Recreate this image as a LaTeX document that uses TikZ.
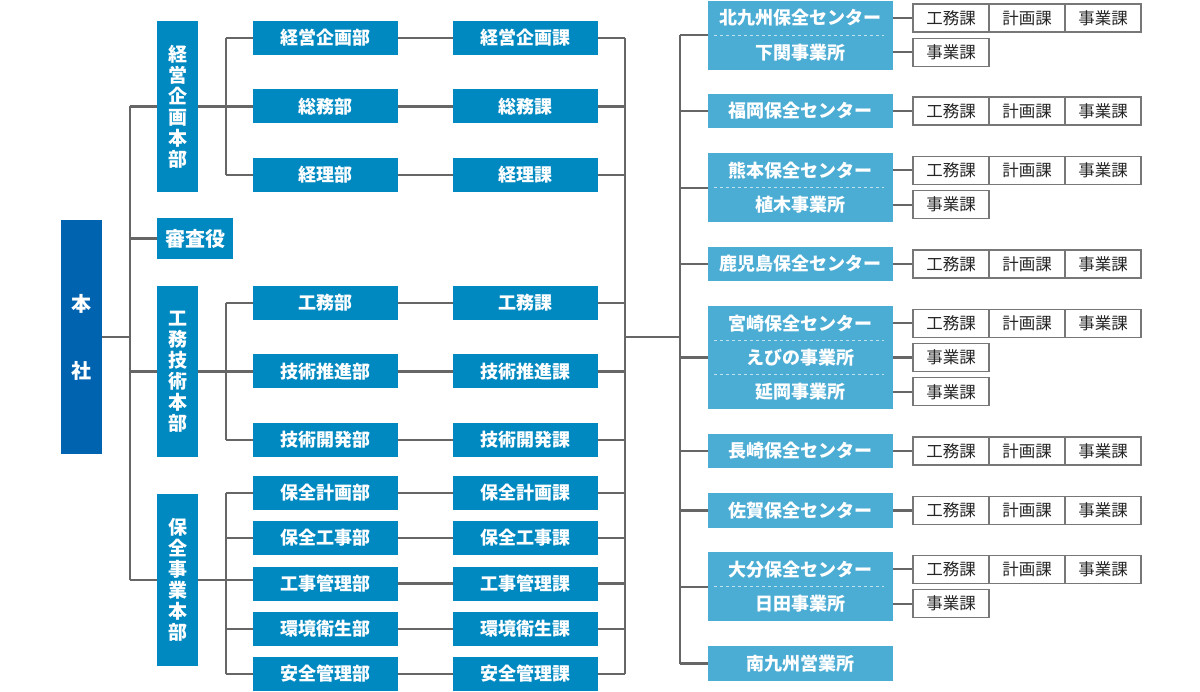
\documentclass[tikz,border=0pt]{standalone}
\usepackage{fontspec}
\newfontfamily\jp{Noto Sans CJK JP}
\definecolor{hqblue}{HTML}{0063B0}
\definecolor{midblue}{HTML}{0089C1}
\definecolor{rblue}{HTML}{4BACD4}
\definecolor{lgray}{HTML}{666666}
\definecolor{bgray}{HTML}{777777}
\tikzset{
  hqbox/.style={fill=hqblue, text=white, inner sep=0pt, align=center,
    minimum width=41, minimum height=234, font=\jp\bfseries\fontsize{20}{67}\selectfont},
  vbox/.style={fill=midblue, text=white, inner sep=0pt, align=center,
    minimum width=41, minimum height=171, font=\jp\bfseries\fontsize{19}{21}\selectfont},
  midbox/.style={fill=midblue, text=white, inner sep=0pt,
    minimum width=145, minimum height=34, font=\jp\bfseries\fontsize{18}{20}\selectfont},
  rbox/.style={fill=rblue, text=white, inner sep=0pt,
    minimum width=185, minimum height=34.4, font=\jp\bfseries\fontsize{18}{20}\selectfont},
  sbox/.style={draw=bgray, line width=1.3, fill=white, text=black!85, inner sep=0pt,
    minimum width=76, minimum height=28, font=\jp\fontsize{16.5}{18}\selectfont},
  conn/.style={draw=lgray, line width=2.2},
  sep/.style={draw=white!65!rblue, line width=0.9, dash pattern=on 3.5pt off 2.5pt},
}
\begin{document}
\begin{tikzpicture}[x=1pt,y=-1pt]
\useasboundingbox (0,0) rectangle (1200,692);
% head office
\node[hqbox] (hq) at (81.5,337) {本\\社};
% headquarters column
\node[vbox] (h1) at (177.5,106.5) {経\\営\\企\\画\\本\\部};
\node[midbox, minimum width=76, minimum height=41, font=\jp\bfseries\fontsize{20}{22}\selectfont] (sa) at (195,238.5) {審査役};
\node[vbox] (h2) at (177.5,371.5) {工\\務\\技\\術\\本\\部};
\node[vbox, minimum height=172] (h3) at (177.5,580) {保\\全\\事\\業\\本\\部};
% departments
\node[midbox] (b11) at (325.5,38) {経営企画部};
\node[midbox] (b12) at (325.5,106.5) {総務部};
\node[midbox] (b13) at (325.5,175) {経理部};
\node[midbox] (b21) at (325.5,303) {工務部};
\node[midbox] (b22) at (325.5,371.5) {技術推進部};
\node[midbox] (b23) at (325.5,440) {技術開発部};
\node[midbox] (b31) at (325.5,493) {保全計画部};
\node[midbox] (b32) at (325.5,538) {保全工事部};
\node[midbox] (b33) at (325.5,583.5) {工事管理部};
\node[midbox] (b34) at (325.5,629) {環境衛生部};
\node[midbox] (b35) at (325.5,674) {安全管理部};
% sections
\node[midbox] (k11) at (525.5,38) {経営企画課};
\node[midbox] (k12) at (525.5,106.5) {総務課};
\node[midbox] (k13) at (525.5,175) {経理課};
\node[midbox] (k21) at (525.5,303) {工務課};
\node[midbox] (k22) at (525.5,371.5) {技術推進課};
\node[midbox] (k23) at (525.5,440) {技術開発課};
\node[midbox] (k31) at (525.5,493) {保全計画課};
\node[midbox] (k32) at (525.5,538) {保全工事課};
\node[midbox] (k33) at (525.5,583.5) {工事管理課};
\node[midbox] (k34) at (525.5,629) {環境衛生課};
\node[midbox] (k35) at (525.5,674) {安全管理課};
% right side centers
\node[rbox] (r1a) at (800.5,18) {北九州保全センター};
\node[rbox] (r1b) at (800.5,52.4) {下関事業所};
\node[rbox] (r2) at (800.5,111) {福岡保全センター};
\node[rbox] (r3a) at (800.5,170.3) {熊本保全センター};
\node[rbox] (r3b) at (800.5,204.7) {植木事業所};
\node[rbox] (r4) at (800.5,264) {鹿児島保全センター};
\node[rbox] (r5a) at (800.5,323.2) {宮崎保全センター};
\node[rbox] (r5b) at (800.5,357.5) {えびの事業所};
\node[rbox] (r5c) at (800.5,391.8) {延岡事業所};
\node[rbox] (r6) at (800.5,451) {長崎保全センター};
\node[rbox] (r7) at (800.5,510.5) {佐賀保全センター};
\node[rbox] (r8a) at (800.5,569.3) {大分保全センター};
\node[rbox] (r8b) at (800.5,603.7) {日田事業所};
\node[rbox] (r9) at (800.5,663.5) {南九州営業所};
% dashed separators
\foreach \a in {r1a,r3a,r5a,r5b,r8a}
  \draw[sep] ([xshift=6]\a.south west) -- ([xshift=-9]\a.south east);
% small section boxes
\foreach \r in {r1a,r2,r3a,r4,r5a,r6,r7,r8a}{
  \node[sbox] (\r-1) at ([xshift=150.5]\r.center) {工務課};
  \node[sbox] (\r-2) at ([xshift=226.5]\r.center) {計画課};
  \node[sbox] (\r-3) at ([xshift=302.5]\r.center) {事業課};
  \draw[conn] (\r.east) -- (\r-1.west);
}
\foreach \r in {r1b,r3b,r5b,r5c,r8b}{
  \node[sbox] (\r-1) at ([xshift=150.5]\r.center) {事業課};
  \draw[conn] (\r.east) -- (\r-1.west);
}
% connectors: head office bus
\coordinate (busA) at (130,0);
\draw[conn] (hq.east) -- (hq.east -| busA);
\draw[conn] (h1.west -| busA) -- (h3.west -| busA);
\foreach \n in {h1,sa,h2,h3} \draw[conn] (\n.west -| busA) -- (\n.west);
% department buses
\coordinate (busB) at (226,0);
\draw[conn] (b11.west -| busB) -- (b13.west -| busB);
\draw[conn] (b21.west -| busB) -- (b23.west -| busB);
\draw[conn] (b31.west -| busB) -- (b35.west -| busB);
\draw[conn] (h1.east) -- (h1.east -| busB);
\draw[conn] (h2.east) -- (h2.east -| busB);
\draw[conn] (h3.east) -- (h3.east -| b33.west);
\foreach \n in {b11,b12,b13,b21,b22,b23,b31,b32,b34,b35} \draw[conn] (\n.west -| busB) -- (\n.west);
% department to section
\foreach \i in {11,12,13,21,22,23,31,32,33,34,35} \draw[conn] (b\i.east) -- (k\i.west);
% section bus
\coordinate (busC) at (625,0);
\coordinate (busD) at (680,0);
\draw[conn] (k11.east -| busC) -- (k35.east -| busC);
\foreach \i in {11,12,13,21,22,23,31,32,33,34,35} \draw[conn] (k\i.east) -- (k\i.east -| busC);
\coordinate (junc) at (625,337);
\draw[conn] (junc) -- (junc -| busD);
% right bus
\draw[conn] (r1a.south west -| busD) -- (r9.west -| busD);
\foreach \c in {r1a.south west, r2.west, r3a.south west, r4.west, r5b.west, r6.west, r7.west, r8a.south west, r9.west}
  \draw[conn] (\c -| busD) -- (\c);
\end{tikzpicture}
\end{document}
